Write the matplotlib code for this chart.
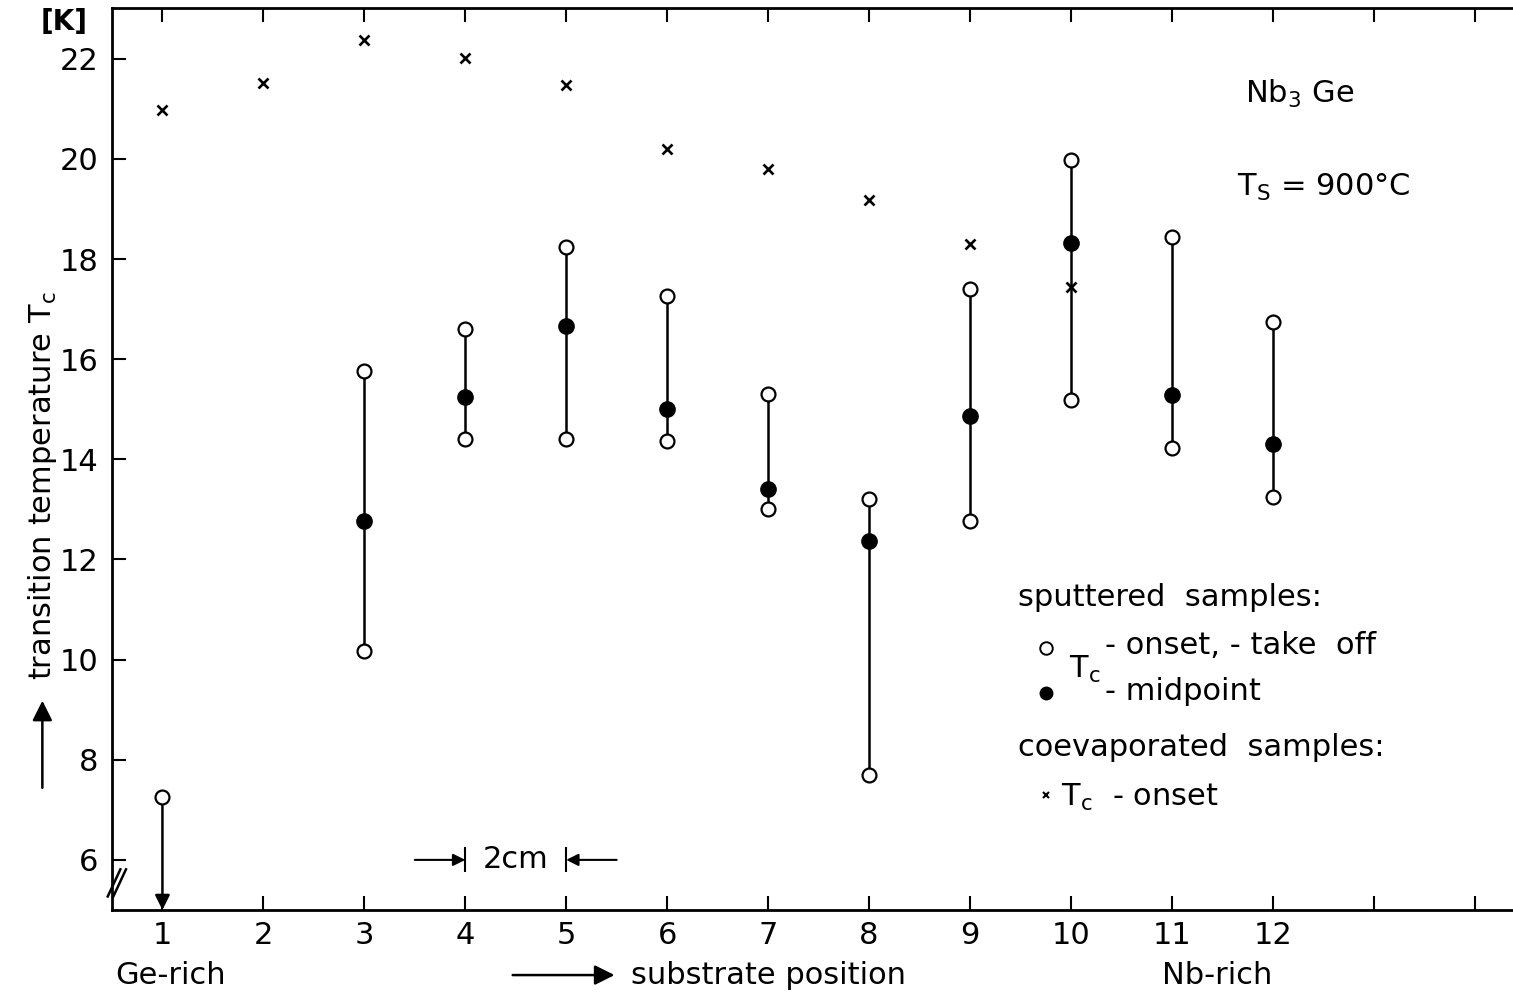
import numpy as np
import matplotlib.pyplot as plt

# substrate positions and measured Tc values [K]
coevap_pos = np.arange(1, 11)
coevap_onset = [20.98, 21.52, 22.38, 22.02, 21.48, 20.2, 19.8, 19.18, 18.3, 17.45]

sput_pos = np.arange(3, 13)
sput_onset = [15.77, 16.6, 18.24, 17.27, 15.31, 13.21, 17.41, 19.98, 18.44, 16.75]
sput_takeoff = [10.17, 14.41, 14.41, 14.37, 13.01, 7.7, 12.77, 15.19, 14.23, 13.25]
sput_mid = [12.77, 15.25, 16.67, 15.0, 13.41, 12.37, 14.87, 18.32, 15.29, 14.31]

# position 1: only onset measured, takeoff below the axis
pos1_onset = 7.25

plt.rcParams['font.family'] = 'DejaVu Sans'
fig = plt.figure(figsize=(15.13, 9.97), dpi=100)
ax = fig.add_axes([0.074, 0.0873, 0.926, 0.905])
ax.set_xlim(0.5, 14.38)
ax.set_ylim(5.0, 23.02)

lw = 1.8
# vertical ranges for sputtered samples
ax.vlines(sput_pos, sput_takeoff, sput_onset, color='black', lw=lw, zorder=1)
ax.plot(sput_pos, sput_onset, 'o', ms=10, mfc='white', mec='black', mew=1.6, zorder=3)
ax.plot(sput_pos, sput_takeoff, 'o', ms=10, mfc='white', mec='black', mew=1.6, zorder=3)
ax.plot(sput_pos, sput_mid, 'o', ms=11, mfc='black', mec='black', zorder=4)

# position 1 with downward arrow
ax.annotate('', xy=(1, 5.0), xytext=(1, pos1_onset - 0.15),
            arrowprops=dict(arrowstyle='-|>', color='black', lw=lw,
                            mutation_scale=22, shrinkA=0, shrinkB=0), zorder=2)
ax.plot([1], [pos1_onset], 'o', ms=10, mfc='white', mec='black', mew=1.6, zorder=3)

# coevaporated samples
ax.plot(coevap_pos, coevap_onset, 'x', ms=7, color='black', mew=1.9, zorder=3)

# axes styling
ax.set_xticks(np.arange(1, 15))
ax.set_xticklabels([str(p) if p <= 12 else '' for p in range(1, 15)])
ax.set_yticks(np.arange(6, 23, 2))
ax.tick_params(direction='in', length=10, width=1.5, labelsize=22,
               top=True, right=False, pad=8)
ax.tick_params(axis='y', pad=10)
for s in ['left', 'bottom', 'top']:
    ax.spines[s].set_linewidth(2)
ax.spines['right'].set_visible(False)

ax.text(-0.21, 22.74, '[K]', fontsize=20, fontweight='bold',
        ha='left', va='center', clip_on=False)
fig.text(0.028, 0.513, r'transition temperature T$_\mathrm{c}$', rotation=90,
         fontsize=22, ha='center', va='center')
fig.patches.append(plt.matplotlib.patches.FancyArrowPatch(
    (0.028, 0.207), (0.028, 0.30), transform=fig.transFigure,
    arrowstyle='-|>', mutation_scale=30, color='black', lw=1.8))

# axis break mark on y axis
ax.plot([-0.003, 0.006], [0.015, 0.045], transform=ax.transAxes, color='black',
        lw=1.8, clip_on=False)
ax.plot([0.001, 0.010], [0.015, 0.045], transform=ax.transAxes, color='black',
        lw=1.8, clip_on=False)

# bottom labels
fig.text(0.076, 0.022, 'Ge-rich', fontsize=22, ha='left', va='center')
fig.text(0.768, 0.022, 'Nb-rich', fontsize=22, ha='left', va='center')
fig.text(0.417, 0.022, 'substrate position', fontsize=22, ha='left', va='center')
fig.patches.append(plt.matplotlib.patches.FancyArrowPatch(
    (0.337, 0.022), (0.408, 0.022), transform=fig.transFigure,
    arrowstyle='-|>', mutation_scale=30, color='black', lw=1.8))

# 2cm scale
ax.annotate('', xy=(4, 6), xytext=(3.5, 6),
            arrowprops=dict(arrowstyle='-|>', color='black', lw=1.5,
                            mutation_scale=18, shrinkA=0, shrinkB=0))
ax.annotate('', xy=(5, 6), xytext=(5.5, 6),
            arrowprops=dict(arrowstyle='-|>', color='black', lw=1.5,
                            mutation_scale=18, shrinkA=0, shrinkB=0))
ax.vlines([4, 5], 5.75, 6.25, color='black', lw=1.5)
ax.text(4.5, 6, '2cm', fontsize=22, ha='center', va='center')

# title block
ax.text(11.72, 21.3, r'Nb$_3$ Ge', fontsize=22, ha='left', va='center')
ax.text(11.65, 19.42, r'T$_\mathrm{S}$ = 900°C', fontsize=22, ha='left', va='center')

# legend text
lx = 9.48
ax.text(lx, 11.25, 'sputtered  samples:', fontsize=22, ha='left', va='center')
ax.plot([lx + 0.27], [10.24], 'o', ms=9, mfc='white', mec='black', mew=1.4)
ax.plot([lx + 0.27], [9.33], 'o', ms=9, mfc='black', mec='black')
ax.text(lx + 0.5, 9.8, r'T$_\mathrm{c}$', fontsize=22, ha='left', va='center')
ax.text(lx + 0.86, 10.28, '- onset, - take  off', fontsize=22, ha='left', va='center')
ax.text(lx + 0.86, 9.36, '- midpoint', fontsize=22, ha='left', va='center')
ax.text(lx, 8.25, 'coevaporated  samples:', fontsize=22, ha='left', va='center')
ax.plot([lx + 0.27], [7.3], 'x', ms=5, color='black', mew=1.5)
ax.text(lx + 0.42, 7.25, r'T$_\mathrm{c}$  - onset', fontsize=22, ha='left', va='center')

fig.savefig('out.png', dpi=100)
